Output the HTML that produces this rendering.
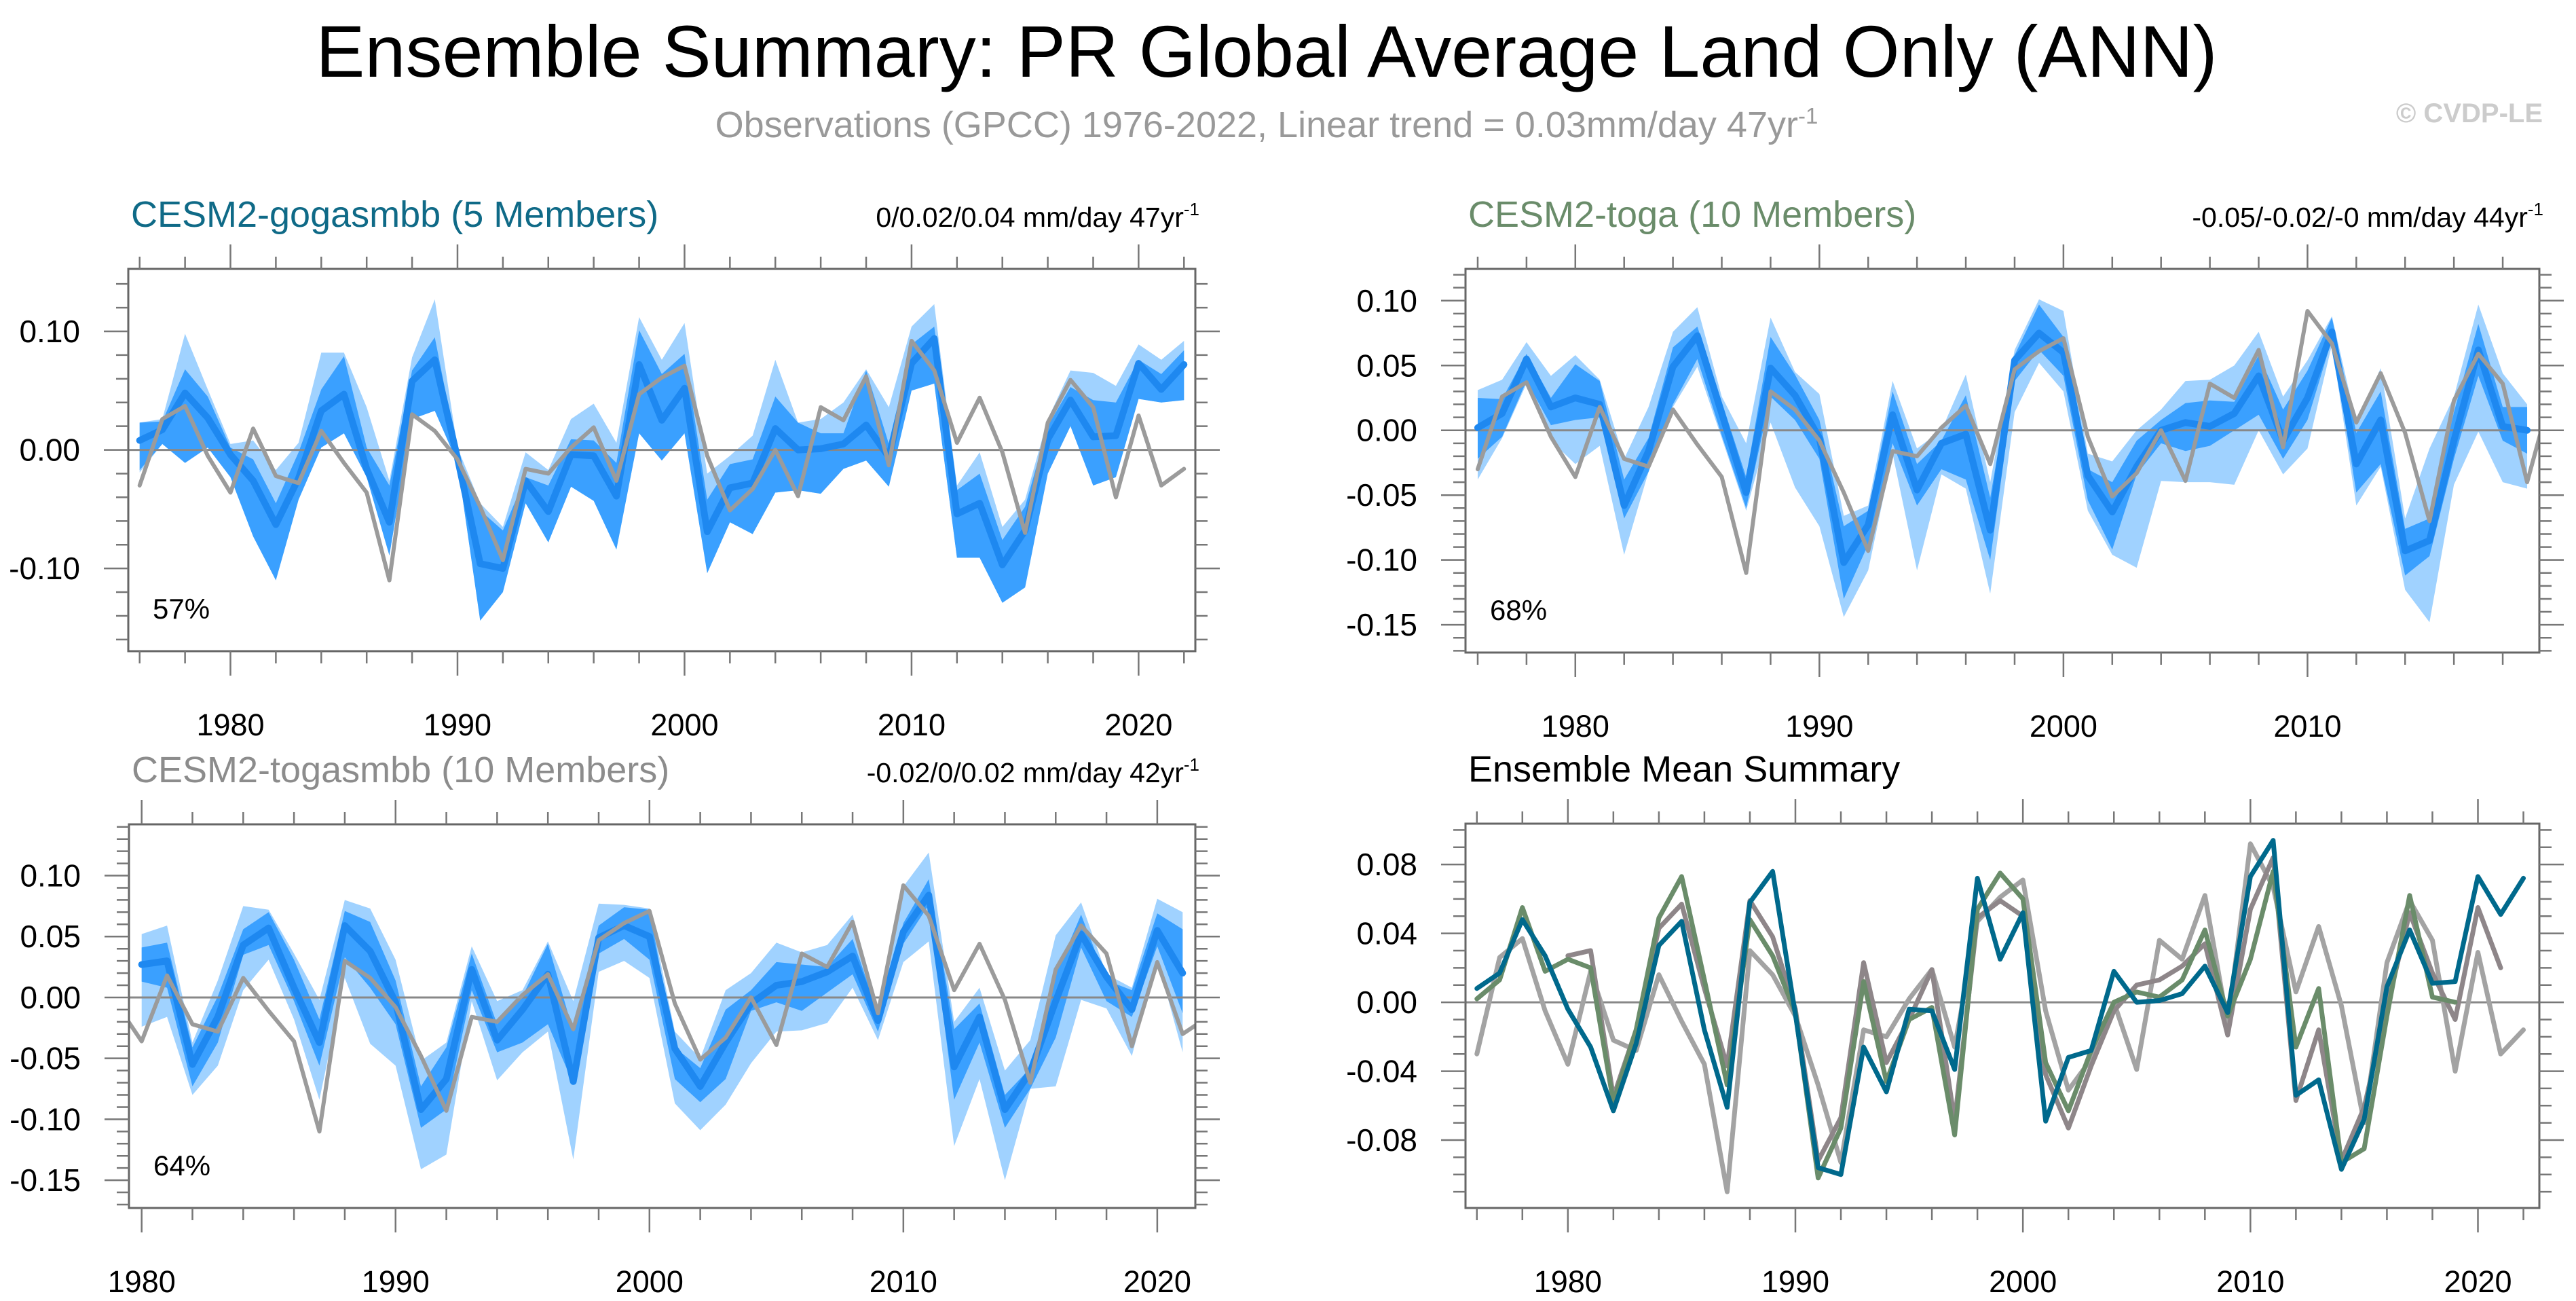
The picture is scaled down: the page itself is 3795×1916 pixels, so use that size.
<!DOCTYPE html>
<html><head><meta charset="utf-8">
<style>
html,body{margin:0;padding:0;background:#fff;}
svg{display:block;font-family:"Liberation Sans",sans-serif;}
</style></head>
<body>
<svg id="chart" width="3795" height="1916" viewBox="0 0 3795 1916" xmlns="http://www.w3.org/2000/svg">
<rect width="3795" height="1916" fill="#fff"/>
<text x="1866" y="113" font-size="108" text-anchor="middle" fill="#000">Ensemble Summary: PR Global Average Land Only (ANN)</text>
<text x="1866" y="202" font-size="54" text-anchor="middle" fill="#999">Observations (GPCC) 1976-2022, Linear trend = 0.03mm/day 47yr<tspan dy="-20" font-size="33">-1</tspan></text>
<text x="3746" y="180" font-size="40" font-weight="bold" text-anchor="end" fill="#ccc">© CVDP-LE</text>
<g id="panels"></g>
</svg>
<script>
// ---------- data ----------
const obsYears = [1976,1977,1978,1979,1980,1981,1982,1983,1984,1985,1986,1987,1988,1989,1990,1991,1992,1993,1994,1995,1996,1997,1998,1999,2000,2001,2002,2003,2004,2005,2006,2007,2008,2009,2010,2011,2012,2013,2014,2015,2016,2017,2018,2019,2020,2021,2022];
const obsValues = [-0.030,0.026,0.037,-0.005,-0.036,0.018,-0.022,-0.028,0.016,-0.011,-0.036,-0.110,0.030,0.016,-0.008,-0.048,-0.093,-0.016,-0.020,0.002,0.019,-0.026,0.047,0.061,0.071,-0.005,-0.051,-0.033,0.000,-0.039,0.036,0.025,0.062,-0.013,0.092,0.067,0.006,0.044,-0.002,-0.070,0.023,0.059,0.036,-0.040,0.029,-0.030,-0.016];

// CESM2-gogasmbb 1976-2022
const gogaYears = obsYears.slice();
const gogaMean = [0.008,0.017,0.048,0.027,-0.004,-0.026,-0.063,-0.024,0.033,0.047,-0.016,-0.061,0.058,0.076,-0.007,-0.096,-0.100,-0.026,-0.052,-0.004,-0.005,-0.039,0.072,0.025,0.052,-0.069,-0.032,-0.028,0.018,0.000,0.001,0.005,0.021,-0.006,0.073,0.094,-0.054,-0.045,-0.097,-0.068,0.009,0.042,0.011,0.012,0.073,0.051,0.072];
const gogaLightUp = [0.023,0.026,0.098,0.051,0.005,0.008,-0.017,0.006,0.082,0.082,0.036,-0.026,0.078,0.127,0.002,-0.045,-0.065,-0.002,-0.017,0.026,0.039,0.006,0.112,0.076,0.107,-0.020,-0.005,0.012,0.076,0.023,0.026,0.040,0.068,0.036,0.104,0.123,-0.030,-0.002,-0.065,-0.042,0.026,0.067,0.065,0.054,0.089,0.076,0.092];
const gogaDarkUp = [0.023,0.024,0.068,0.045,0.002,-0.008,-0.045,-0.002,0.051,0.079,0.002,-0.030,0.067,0.095,-0.002,-0.051,-0.068,-0.023,-0.030,0.009,0.008,-0.011,0.101,0.064,0.081,-0.042,-0.012,-0.008,0.045,0.023,0.014,0.014,0.067,0.005,0.089,0.104,-0.034,-0.020,-0.076,-0.048,0.020,0.053,0.042,0.040,0.076,0.064,0.084];
const gogaDarkLo = [-0.017,0.005,-0.011,0.002,-0.023,-0.073,-0.110,-0.042,0.002,0.014,-0.023,-0.089,0.026,0.033,-0.011,-0.144,-0.120,-0.045,-0.078,-0.031,-0.043,-0.084,0.014,-0.009,0.014,-0.104,-0.061,-0.071,-0.036,-0.034,-0.037,-0.016,-0.009,-0.031,0.050,0.056,-0.091,-0.091,-0.129,-0.116,-0.020,0.020,-0.030,-0.023,0.043,0.040,0.042];
const gogaLightLo = [-0.019,0.005,-0.011,0.002,-0.023,-0.073,-0.110,-0.042,0.002,0.014,-0.023,-0.089,0.026,0.033,-0.011,-0.144,-0.120,-0.045,-0.078,-0.031,-0.043,-0.084,0.014,-0.009,0.014,-0.104,-0.061,-0.071,-0.036,-0.034,-0.037,-0.016,-0.009,-0.031,0.050,0.056,-0.091,-0.091,-0.129,-0.116,-0.020,0.020,-0.030,-0.023,0.043,0.040,0.042];

// CESM2-toga 1976-2019
const togaYears = obsYears.slice(0,44);
const togaMean = [0.002,0.013,0.055,0.018,0.025,0.020,-0.058,-0.016,0.049,0.073,0.013,-0.048,0.048,0.027,-0.006,-0.102,-0.073,0.012,-0.046,-0.010,-0.003,-0.077,0.054,0.075,0.060,-0.035,-0.063,-0.028,0.000,0.006,0.003,0.013,0.042,-0.008,0.025,0.076,-0.026,0.008,-0.093,-0.085,-0.008,0.062,0.003,0.000];
const togaLightUp = [0.031,0.039,0.068,0.042,0.058,0.039,-0.022,0.018,0.076,0.095,0.026,-0.010,0.087,0.045,0.028,-0.066,-0.058,0.038,-0.014,0.000,0.043,-0.040,0.062,0.101,0.092,-0.018,-0.024,0.000,0.016,0.038,0.039,0.050,0.076,0.026,0.054,0.088,0.006,0.048,-0.068,-0.014,0.026,0.097,0.044,0.020];
const togaDarkUp = [0.025,0.024,0.059,0.025,0.051,0.038,-0.038,-0.006,0.064,0.080,0.022,-0.036,0.072,0.043,0.008,-0.074,-0.062,0.030,-0.026,-0.008,0.027,-0.052,0.058,0.097,0.072,-0.030,-0.040,-0.008,0.008,0.021,0.023,0.022,0.058,0.016,0.046,0.087,-0.002,0.030,-0.076,-0.068,0.014,0.082,0.018,0.018];
const togaDarkLo = [-0.022,-0.005,0.038,0.004,0.008,0.010,-0.068,-0.032,0.020,0.055,-0.004,-0.060,0.026,0.008,-0.022,-0.130,-0.088,-0.010,-0.058,-0.030,-0.038,-0.100,0.038,0.062,0.042,-0.054,-0.092,-0.034,-0.010,-0.016,-0.012,0.000,0.012,-0.022,0.008,0.070,-0.048,-0.026,-0.112,-0.097,-0.022,0.042,-0.008,-0.018];
const togaLightLo = [-0.038,-0.006,0.036,-0.008,-0.026,-0.012,-0.096,-0.032,0.018,0.049,-0.006,-0.062,0.006,-0.044,-0.074,-0.144,-0.108,-0.018,-0.108,-0.034,-0.045,-0.126,0.014,0.052,0.030,-0.062,-0.096,-0.106,-0.039,-0.040,-0.040,-0.042,0.000,-0.034,-0.014,0.066,-0.058,-0.028,-0.123,-0.148,-0.042,-0.001,-0.040,-0.045];

// CESM2-togasmbb 1980-2021
const tsmYears = obsYears.slice(4,46);
const tsmMean = [0.027,0.030,-0.055,-0.016,0.043,0.057,0.008,-0.037,0.059,0.038,-0.004,-0.092,-0.067,0.023,-0.035,-0.010,0.019,-0.069,0.049,0.059,0.050,-0.042,-0.073,-0.037,-0.005,0.010,0.013,0.021,0.034,-0.019,0.054,0.084,-0.057,-0.016,-0.092,-0.061,-0.003,0.052,0.017,-0.010,0.055,0.020];
const tsmLightUp = [0.052,0.059,-0.037,0.014,0.075,0.072,0.036,-0.002,0.080,0.073,0.031,-0.052,-0.037,0.042,-0.003,0.006,0.046,-0.003,0.077,0.076,0.073,-0.028,-0.050,0.006,0.020,0.045,0.037,0.043,0.068,-0.007,0.091,0.119,-0.020,0.008,-0.060,-0.035,0.051,0.078,0.019,0.008,0.081,0.070];
const tsmDarkUp = [0.041,0.045,-0.041,0.001,0.056,0.070,0.031,-0.018,0.071,0.062,0.014,-0.073,-0.041,0.036,-0.022,0.001,0.044,-0.028,0.059,0.074,0.072,-0.041,-0.058,-0.010,0.006,0.029,0.027,0.025,0.048,-0.013,0.061,0.097,-0.026,-0.005,-0.080,-0.058,0.019,0.068,0.014,0.006,0.069,0.056];
const tsmDarkLo = [0.013,0.008,-0.073,-0.037,0.035,0.043,-0.003,-0.056,0.033,0.008,-0.022,-0.107,-0.092,0.006,-0.045,-0.037,-0.022,-0.071,0.036,0.048,0.031,-0.067,-0.086,-0.067,-0.011,-0.004,-0.011,0.004,0.019,-0.028,0.044,0.076,-0.084,-0.037,-0.107,-0.075,-0.033,0.041,-0.003,-0.016,0.042,-0.013];
const tsmLightLo = [-0.024,-0.016,-0.080,-0.056,0.006,0.031,-0.018,-0.084,0.016,-0.038,-0.056,-0.141,-0.129,-0.003,-0.068,-0.045,-0.028,-0.133,0.021,0.030,0.016,-0.087,-0.109,-0.088,-0.054,-0.028,-0.027,-0.021,0.008,-0.035,0.029,0.046,-0.122,-0.067,-0.150,-0.075,-0.073,-0.002,-0.009,-0.048,0.031,-0.045];

const pct = ["57%","68%","64%"];
const yTicksA = [-0.10,0.00,0.10];
const yTicksB = [-0.15,-0.10,-0.05,0.00,0.05,0.10];
const yTicksD = [-0.08,-0.04,0.00,0.04,0.08];
const xTicks = [1980,1990,2000,2010,2020];

// ---------- drawing ----------
const NS = "http://www.w3.org/2000/svg";
const root = document.getElementById('panels');
function mk(tag, attrs, parent){
  const e = document.createElementNS(NS, tag);
  for (const k in attrs) e.setAttribute(k, attrs[k]);
  (parent||root).appendChild(e);
  return e;
}
function fmt(v){ return v.toFixed(2); }

function panel(cfg){
  const g = mk('g', {});
  
  
  const L=cfg.x0, R=cfg.x1, T=cfg.y0, B=cfg.y1;
  const sx = v => L + (v - cfg.xmin)/(cfg.xmax-cfg.xmin)*(R-L);
  const sy = v => T + (cfg.ymax - v)/(cfg.ymax-cfg.ymin)*(B-T);
  const cid = 'clip-' + cfg.name;
  const defs = mk('defs', {}, g);
  const cp = mk('clipPath', {id: cid}, defs);
  mk('rect', {x:L, y:T, width:R-L, height:B-T}, cp);
  const plot = mk('g', {'clip-path':'url(#'+cid+')'}, g);

  (cfg.bands||[]).forEach(b=>{
    let pts = b.years.map((y,i)=>sx(y)+','+sy(b.up[i]));
    pts = pts.concat(b.years.map((y,i)=>sx(y)+','+sy(b.lo[i])).reverse());
    const p = mk('polygon', {points: pts.join(' '), fill: b.color}, plot);
    
    
  });
  const z = mk('line', {x1:L, x2:R, y1:sy(0), y2:sy(0), stroke:'#888', 'stroke-width':3}, plot);
  
  
  (cfg.lines||[]).forEach(l=>{
    const pts = l.years.map((y,i)=>sx(y)+','+sy(l.vals[i])).join(' ');
    const p = mk('polyline', {points: pts, fill:'none', stroke:l.color, 'stroke-width':l.w, 'stroke-linejoin':'round', 'stroke-linecap':'round'}, plot);
    
    
  });
  const fr = mk('rect', {x:L, y:T, width:R-L, height:B-T, fill:'none', stroke:'#666', 'stroke-width':3}, g);
  
  
  for (let yr = Math.ceil(cfg.xmin/2)*2; yr <= cfg.xmax; yr += 2){
    const x = sx(yr), major = yr % 10 === 0, len = major ? 36 : 18;
    mk('line', {x1:x, x2:x, y1:T, y2:T-len, stroke:'#777', 'stroke-width':2.5}, g);
    mk('line', {x1:x, x2:x, y1:B, y2:B+len, stroke:'#777', 'stroke-width':2.5}, g);
  }
  xTicks.forEach(yr=>{
    if (yr < cfg.xmin || yr > cfg.xmax) return;
    const t = mk('text', {x:sx(yr), y:B+124, 'font-size':45, 'text-anchor':'middle', fill:'#000'}, g);
    t.textContent = String(yr);
    
    
  });
  const n0 = Math.ceil(cfg.ymin/cfg.minor - 1e-6), n1 = Math.floor(cfg.ymax/cfg.minor + 1e-6);
  for (let n = n0; n <= n1; n++){
    const v = n*cfg.minor, y = sy(v);
    const major = cfg.yt.some(t=>Math.abs(t-v)<1e-6);
    const len = major ? 36 : 18;
    mk('line', {x1:L, x2:L-len, y1:y, y2:y, stroke:'#777', 'stroke-width':2.5}, g);
    mk('line', {x1:R, x2:R+len, y1:y, y2:y, stroke:'#777', 'stroke-width':2.5}, g);
  }
  cfg.yt.forEach(v=>{
    const t = mk('text', {x:L-71, y:sy(v)+16, 'font-size':46, 'text-anchor':'end', fill:'#000'}, g);
    t.textContent = fmt(v);
    
    
  });
  const tt = mk('text', {x:L+4, y:T-62, 'font-size':54, fill:cfg.titleColor}, g);
  tt.textContent = cfg.title;
  
  
  if (cfg.trend){
    const tr = mk('text', {x:R+6, y:T-62, 'font-size':41, 'text-anchor':'end', fill:'#000'}, g);
    tr.textContent = cfg.trend;
    const sup = mk('tspan', {dy:-17, 'font-size':26}, tr);
    sup.textContent = '-1';
    
    
  }
  if (cfg.pct){
    const pt = mk('text', {x:L+36, y:B-48, 'font-size':42, fill:'#000'}, g);
    pt.textContent = cfg.pct;
    
    
  }
}

const LIGHT='#a0d2ff', DARK='#3aa0ff', MEAN='#1e88f0', OBS='#9b9b9b';

panel({name:'panel-gogasmbb', x0:189, x1:1761, y0:396, y1:959, xmin:1975.5, xmax:2022.5, ymin:-0.1698, ymax:0.1527, minor:0.02, yt:yTicksA,
  title:'CESM2-gogasmbb (5 Members)', titleColor:'#0f6a87', trend:'0/0.02/0.04 mm/day 47yr', pct:pct[0],
  bands:[{name:'band-min-max',years:gogaYears,up:gogaLightUp,lo:gogaLightLo,color:LIGHT},{name:'band-interquartile',years:gogaYears,up:gogaDarkUp,lo:gogaDarkLo,color:DARK}],
  lines:[{name:'ensemble-mean-line',years:gogaYears,vals:gogaMean,color:MEAN,w:10},{name:'observations-line',years:obsYears,vals:obsValues,color:OBS,w:6}]});

panel({name:'panel-toga', x0:2159, x1:3741, y0:396, y1:961, xmin:1975.5, xmax:2019.5, ymin:-0.1714, ymax:0.1245, minor:0.01, yt:yTicksB,
  title:'CESM2-toga (10 Members)', titleColor:'#6a8c6a', trend:'-0.05/-0.02/-0 mm/day 44yr', pct:pct[1],
  bands:[{name:'band-min-max',years:togaYears,up:togaLightUp,lo:togaLightLo,color:LIGHT},{name:'band-interquartile',years:togaYears,up:togaDarkUp,lo:togaDarkLo,color:DARK}],
  lines:[{name:'ensemble-mean-line',years:togaYears,vals:togaMean,color:MEAN,w:10},{name:'observations-line',years:obsYears,vals:obsValues,color:OBS,w:6}]});

panel({name:'panel-togasmbb', x0:190, x1:1761, y0:1214, y1:1779, xmin:1979.5, xmax:2021.5, ymin:-0.1728, ymax:0.1421, minor:0.01, yt:yTicksB,
  title:'CESM2-togasmbb (10 Members)', titleColor:'#8c8c8c', trend:'-0.02/0/0.02 mm/day 42yr', pct:pct[2],
  bands:[{name:'band-min-max',years:tsmYears,up:tsmLightUp,lo:tsmLightLo,color:LIGHT},{name:'band-interquartile',years:tsmYears,up:tsmDarkUp,lo:tsmDarkLo,color:DARK}],
  lines:[{name:'ensemble-mean-line',years:tsmYears,vals:tsmMean,color:MEAN,w:10},{name:'observations-line',years:obsYears,vals:obsValues,color:OBS,w:6}]});

panel({name:'panel-ensemble-mean-summary', x0:2159, x1:3741, y0:1213, y1:1779, xmin:1975.5, xmax:2022.7, ymin:-0.1194, ymax:0.1037, minor:0.01, yt:yTicksD,
  title:'Ensemble Mean Summary', titleColor:'#000',
  lines:[{name:'observations-line',years:obsYears,vals:obsValues,color:'#a3a3a3',w:7},
         {name:'togasmbb-mean-line',years:tsmYears,vals:tsmMean,color:'#8e8689',w:7},
         {name:'toga-mean-line',years:togaYears,vals:togaMean,color:'#6a8c6a',w:7},
         {name:'gogasmbb-mean-line',years:gogaYears,vals:gogaMean,color:'#00698c',w:7}]});
</script>
</body></html>
